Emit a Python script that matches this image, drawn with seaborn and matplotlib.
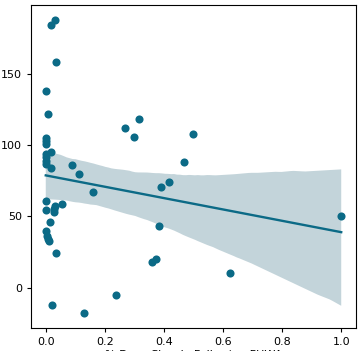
import pandas as pd
import seaborn as sns
import matplotlib.pyplot as plt
from matplotlib.collections import PolyCollection

# values
share_days = [0.032, 0.017, 0.034, 0.000, 0.009, 0.268, 0.316, 0.299,
              0.000, 0.000, 0.001, 0.000, 0.017, 0.001, 0.000, 0.002, 0.017,
              0.090, 0.114, 0.500, 0.469, 0.159, 0.389, 0.418,
              0.000, 0.000, 0.030, 0.029, 0.028, 0.056, 0.015, 0.000,
              0.003, 0.008, 0.011, 0.036, 0.382, 0.359, 0.372,
              0.237, 0.021, 0.129, 1.000, 0.624]
outcome = [188, 184, 158, 138, 122, 112, 118, 106,
           105, 103, 101, 94, 95, 92, 89, 87, 84,
           86, 80, 108, 88, 67, 70.5, 74,
           61, 54.5, 57, 55, 53, 59, 46, 40,
           36, 34, 33, 24, 43, 18, 20,
           -5.4, -12.5, -18, 50, 10]

x_label = "% Days Closely Following FHWA"


def main():
    df = pd.DataFrame({"share_days": share_days, "outcome": outcome})

    fig = plt.figure(figsize=(3.62, 3.51), dpi=100)
    ax = fig.add_axes([0.0856, 0.0655, 0.8978, 0.9203])

    color = "#0b6a86"
    sns.regplot(data=df, x="share_days", y="outcome", ax=ax, color=color,
                scatter_kws={"s": 34, "alpha": 1, "linewidths": 0, "zorder": 3},
                line_kws={"linewidth": 1.7, "zorder": 4}, seed=3)

    # the confidence band is greyer in the reference, and sits under the dots
    for coll in ax.collections:
        if isinstance(coll, PolyCollection):
            coll.set_facecolor("#c3d4da")
            coll.set_alpha(1)
            coll.set_zorder(1)

    ax.set_xticks([0.0, 0.2, 0.4, 0.6, 0.8, 1.0])
    ax.set_yticks([0, 50, 100, 150])
    ax.tick_params(labelsize=8, length=3)
    ax.set_ylabel("")
    ax.set_xlabel(x_label, fontsize=8, labelpad=2)

    fig.savefig("out.png", dpi=100)
    plt.close(fig)


if __name__ == "__main__":
    main()
